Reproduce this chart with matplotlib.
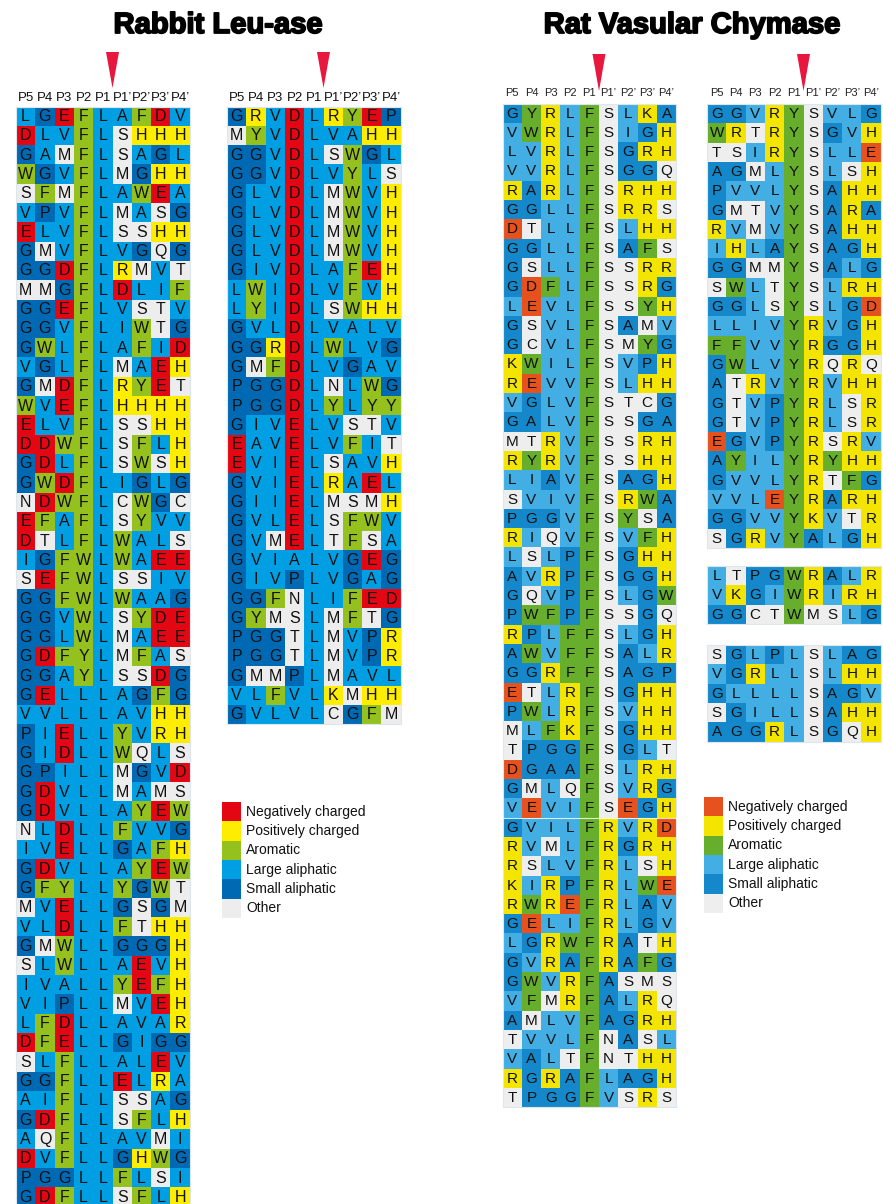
import matplotlib
matplotlib.use("Agg")
import matplotlib.pyplot as plt
import matplotlib.patheffects as pe
from matplotlib.patches import Rectangle, Polygon

# ---------------- data ----------------
POSITIONS = ["P5", "P4", "P3", "P2", "P1", "P1\u2019", "P2\u2019", "P3\u2019", "P4\u2019"]

RABBIT_LEFT = [
    "LGEFLAFDV", "DLVFLSHHH", "GAMFLSAGL", "WGVFLMGHH", "SFMFLAWEA",
    "VPVFLMASG", "ELVFLSSHH", "GMVFLVGQG", "GGDFLRMVT", "MMGFLDLIF",
    "GGEFLVSTV", "GGVFLIWTG", "GWLFLAFID", "VGLFLMAEH", "GMDFLRYET",
    "WVEFLHHHH", "ELVFLSSHH", "DDWFLSFLH", "GDLFLSWSH", "GWDFLIGLG",
    "NDWFLCWGC", "EFAFLSYVV", "DTLFLWALS", "IGFWLWAEE", "SEFWLSSIV",
    "GGFWLWAAG", "GGVWLSYDE", "GGLWLMAEE", "GDFYLMFAS", "GGAYLSSDG",
    "GELLLAGFG", "VVLLLAVHH", "PIELLYVRH", "GIDLLWQLS", "GPILLMGVD",
    "GDVLLMAMS", "GDVLLAYEW", "NLDLLFVVG", "IVELLGAFH", "GDVLLAYEW",
    "GFYLLYGWT", "MVELLGSGM", "VLDLLFTHH", "GMWLLGGGH", "SLWLLAEVH",
    "IVALLYEFH", "VIPLLMVEH", "LFDLLAVAR", "DFELLGIGG", "SLFLLALEV",
    "GGFLLELRA", "AIFLLSSAG", "GDFLLSFLH", "AQFLLAVMI", "DVFLLGHWG",
    "PGGLLFLSI", "GDFLLSFLH",
]

RABBIT_RIGHT = [
    "GRVDLRYEP", "MYVDLVAHH", "GGVDLSWGL", "GGVDLVYLS", "GLVDLMWVH",
    "GLVDLMWVH", "GLVDLMWVH", "GLVDLMWVH", "GIVDLAFEH", "LWIDLVFVH",
    "LYIDLSWHH", "GVLDLVALV", "GGRDLWLVG", "GMFDLVGAV", "PGGDLNLWG",
    "PGGDLYLYY", "GIVELVSTV", "EAVELVFIT", "EVIELSAVH", "GVIELRAEL",
    "GIIELMSMH", "GVLELSFWV", "GVMELTFSA", "GVIALVGEG", "GIVPLVGAG",
    "GGFNLIFED", "GYMSLMFTG", "PGGTLMVPR", "PGGTLMVPR", "GMMPLMAVL",
    "VLFVLKMHH", "GVLVLCGFM",
]

RAT_LEFT = [
    "GYRLFSLKA", "VWRLFSIGH", "LVRLFSGRH", "VVRLFSGGQ", "RARLFSRHH",
    "GGLLFSRRS", "DTLLFSLHH", "GGLLFSAFS", "GSLLFSSRR", "GDFLFSSRG",
    "LEVLFSSYH", "GSVLFSAMV", "GCVLFSMYG", "KWILFSVPH", "REVVFSLHH",
    "VGLVFSTCG", "GALVFSSGA", "MTRVFSSRH", "RYRVFSSHH", "LIAVFSAGH",
    "SVIVFSRWA", "PGGVFSYSA", "RIQVFSVFH", "LSLPFSGHH", "AVRPFSGGH",
    "GQVPFSLGW", "PWFPFSSGQ", "RPLFFSLGH", "AWVFFSALR", "GGRFFSAGP",
    "ETLRFSGHH", "PWLRFSVHH", "MLFKFSGHH", "TPGGFSGLT", "DGAAFSLRH",
    "GMLQFSVRG", "VEVIFSEGH", "GVILFRVRD", "RVMLFRGRH", "RSLVFRLSH",
    "KIRPFRLWE", "RWREFRLAV", "GELIFRLGV", "LGRWFRATH", "GVRAFRAFG",
    "GWVRFASMS", "VFMRFALRQ", "AMLVFAGRH", "TVVLFNASL", "VALTFNTHH",
    "RGRAFLAGH", "TPGGFVSRS",
]

RAT_RIGHT_A = [
    "GGVRYSVLG", "WRTRYSGVH", "TSIRYSLLE", "AGMLYSLSH", "PVVLYSAHH",
    "GMTVYSARA", "RVMVYSAHH", "IHLAYSAGH", "GGMMYSALG", "SWLTYSLRH",
    "GGLSYSLGD", "LLIVYRVGH", "FFVVYRGGH", "GWLVYRQRQ", "ATRVYRVHH",
    "GTVPYRLSR", "GTVPYRLSR", "EGVPYRSRV", "AYILYRYHH", "GVVLYRTFG",
    "VVLEYRARH", "GGVVYKVTR", "SGRVYALGH",
]

RAT_RIGHT_B = ["LTPGWRALR", "VKGIWRIRH", "GGCTWMSLG"]

RAT_RIGHT_C = ["SGLPLSLAG", "VGRLLSLHH", "GLLLLSAGV", "SGILLSAHH", "AGGRLSGQH"]

LEGEND_LABELS = ["Negatively charged", "Positively charged", "Aromatic",
                 "Large aliphatic", "Small aliphatic", "Other"]
CLASS_KEYS = ["neg", "pos", "aro", "large", "small", "other"]

RESIDUE_CLASS = {
    "D": "neg", "E": "neg",
    "R": "pos", "K": "pos", "H": "pos",
    "F": "aro", "W": "aro", "Y": "aro",
    "L": "large", "V": "large", "I": "large",
    "G": "small", "A": "small", "P": "small",
}
# in the rabbit panels alanine is coloured as a large aliphatic residue
RABBIT_OVERRIDE = {"A": "large"}
RAT_OVERRIDE = {}

TITLES = ["Rabbit Leu-ase", "Rat Vasular Chymase"]

# ---------------- styles ----------------
RABBIT_COLORS = {"neg": "#E30613", "pos": "#FFED00", "aro": "#95C11F",
                 "large": "#009FE3", "small": "#0069B4", "other": "#EDEDED"}
RAT_COLORS = {"neg": "#E6511E", "pos": "#F3E500", "aro": "#67AE2C",
              "large": "#42AEE4", "small": "#1488CA", "other": "#EEEEEE"}

LETTER_FONT = ["Liberation Sans", "DejaVu Sans"]
CELL = 19.3

fig = plt.figure(figsize=(8.83, 12.04), dpi=100)
ax = fig.add_axes([0, 0, 1, 1])
ax.set_xlim(0, 883)
ax.set_ylim(1204, 0)
ax.axis("off")


def draw_grid(seqs, x0, y0, colors, override, fs=11.5):
    for r, seq in enumerate(seqs):
        for c, aa in enumerate(seq):
            cls = override.get(aa, RESIDUE_CLASS.get(aa, "other"))
            ax.add_patch(Rectangle((x0 + c * CELL, y0 + r * CELL), CELL, CELL,
                                   facecolor=colors[cls], edgecolor="none"))
            ax.text(x0 + (c + 0.5) * CELL, y0 + (r + 0.52) * CELL, aa,
                    ha="center", va="center", fontsize=fs,
                    family=LETTER_FONT, color="#111111")
    nrows = len(seqs)
    ax.add_patch(Rectangle((x0, y0), 9 * CELL, nrows * CELL, facecolor="none",
                           edgecolor="#DDE6EE", lw=0.8))


def draw_header(x0, y, fs, color):
    for c, p in enumerate(POSITIONS):
        ax.text(x0 + (c + 0.5) * CELL, y, p, ha="center", va="center",
                fontsize=fs, family=LETTER_FONT, color=color)


def draw_arrow(xc, ytop, ybot, w=13):
    ax.add_patch(Polygon([(xc - w / 2, ytop), (xc + w / 2, ytop), (xc, ybot)],
                         closed=True, facecolor="#E8173E", edgecolor="none"))


def draw_legend(x0, y0, colors, fs=10):
    for k, (key, lab) in enumerate(zip(CLASS_KEYS, LEGEND_LABELS)):
        ax.add_patch(Rectangle((x0, y0 + k * CELL), CELL, CELL,
                               facecolor=colors[key], edgecolor="none"))
        ax.text(x0 + CELL + 5, y0 + (k + 0.5) * CELL, lab, ha="left",
                va="center", fontsize=fs, family=LETTER_FONT, color="#111111")


# Titles (heavy weight emulated with a thin stroke)
title_fx = [pe.withStroke(linewidth=1.3, foreground="black")]
ax.text(218, 25, TITLES[0], ha="center", va="center", fontsize=21,
        fontweight="bold", family=["Liberation Sans Narrow", "Liberation Sans"],
        path_effects=title_fx)
ax.text(692, 25, TITLES[1], ha="center", va="center", fontsize=21,
        fontweight="bold", family=["Liberation Sans Narrow", "Liberation Sans"],
        path_effects=title_fx)

# Rabbit panels
RL_X, RR_X, R_Y = 16, 227, 106.5
draw_header(RL_X, 98, 9.5, "#111111")
draw_header(RR_X, 98, 9.5, "#111111")
draw_grid(RABBIT_LEFT, RL_X, R_Y, RABBIT_COLORS, RABBIT_OVERRIDE)
draw_grid(RABBIT_RIGHT, RR_X, R_Y, RABBIT_COLORS, RABBIT_OVERRIDE)
draw_arrow(RL_X + 5 * CELL, 52, 88)
draw_arrow(RR_X + 5 * CELL, 52, 88)
draw_legend(222, 802, RABBIT_COLORS)

# Rat panels
TL_X, TR_X = 502.5, 707
draw_header(TL_X, 93, 8, "#222222")
draw_header(TR_X, 93, 8, "#222222")
draw_grid(RAT_LEFT, TL_X, 103.5, RAT_COLORS, RAT_OVERRIDE, fs=11)
draw_grid(RAT_RIGHT_A, TR_X, 104, RAT_COLORS, RAT_OVERRIDE, fs=11)
draw_grid(RAT_RIGHT_B, TR_X, 566, RAT_COLORS, RAT_OVERRIDE, fs=11)
draw_grid(RAT_RIGHT_C, TR_X, 645, RAT_COLORS, RAT_OVERRIDE, fs=11)
# faint separator in rat left grid
ax.plot([TL_X, TL_X + 9 * CELL], [103.5 + 37 * CELL] * 2, color="white",
        lw=0.8, alpha=0.8)
draw_arrow(TL_X + 5 * CELL, 54, 91)
draw_arrow(TR_X + 5 * CELL, 54, 91)
draw_legend(704, 797, RAT_COLORS)

fig.savefig("out.png", dpi=100)
